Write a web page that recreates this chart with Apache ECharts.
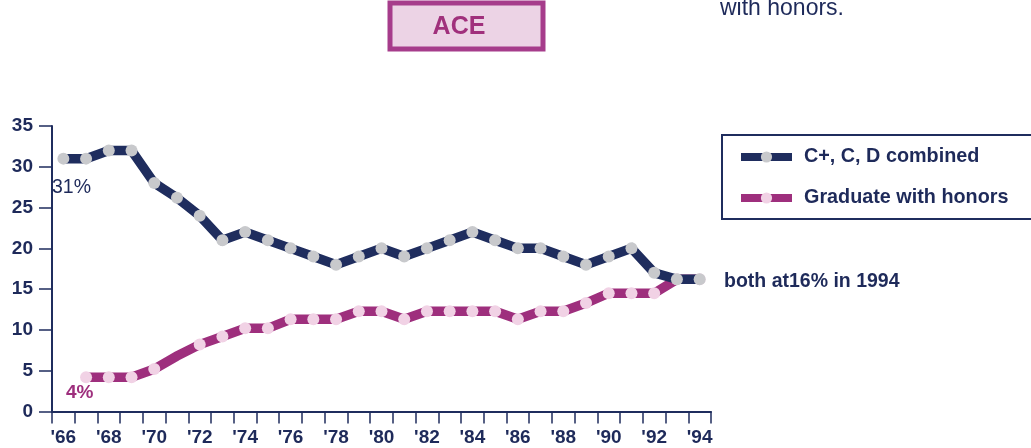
<!DOCTYPE html>
<html>
<head>
<meta charset="utf-8">
<script src="https://cdn.jsdelivr.net/npm/echarts@6/dist/echarts.min.js"></script>
<style>
html,body{margin:0;padding:0;background:#fff;}
#chart{width:1031px;height:448px;}
</style>
</head>
<body>
<div id="chart"></div>
<script>
const years = ["'66","'67","'68","'69","'70","'71","'72","'73","'74","'75","'76","'77","'78","'79","'80","'81","'82","'83","'84","'85","'86","'87","'88","'89","'90","'91","'92","'93","'94"];
const combinedCD = [31,31,32,32,28,26.2,24,21,22,21,20,19,18,19,20,19,20,21,22,21,20,20,19,18,19,20,17,16.2,16.2];
const honors = [null,4.2,4.2,4.2,5.2,6.8,8.2,9.2,10.2,10.2,11.3,11.3,11.3,12.3,12.3,11.3,12.3,12.3,12.3,12.3,11.3,12.3,12.3,13.3,14.5,14.5,14.5,16.2,16.2];
const honorsHiddenMarkers = ["'71"];
const yTicks = [0,5,10,15,20,25,30,35];
const seriesNames = ['C+, C, D combined','Graduate with honors'];
const titleText = 'ACE';
const noteText = 'with honors.';
const bothText = 'both at16% in 1994';

const NAVY = '#1f2d5e';
const MAG = '#9e2f7d';
const TXT = '#1e2a5a';

const chart = echarts.init(document.getElementById('chart'), null, {renderer:'canvas'});
const honorsData = honors.map((v,i)=> honorsHiddenMarkers.includes(years[i]) ? {value:v, symbol:'none'} : v);

chart.setOption({
  backgroundColor:'#ffffff',
  animation:false,
  textStyle:{fontFamily:'Liberation Sans, Arial, sans-serif'},
  grid:{left:52, right:320, top:126, bottom:36.5, containLabel:false},
  xAxis:{
    type:'category', data:years, boundaryGap:true,
    axisLine:{lineStyle:{color:NAVY,width:2}},
    axisTick:{show:true, interval:0, length:12, lineStyle:{color:NAVY,width:1.5}},
    axisLabel:{interval:1, color:TXT, fontSize:19, fontWeight:'bold', margin:17},
    splitLine:{show:false}
  },
  yAxis:{
    type:'value', min:yTicks[0], max:yTicks[yTicks.length-1], interval:5,
    axisLine:{show:true, lineStyle:{color:NAVY,width:2}},
    axisTick:{show:true, length:13, lineStyle:{color:NAVY,width:1.5}},
    axisLabel:{color:TXT, fontSize:19, fontWeight:'bold', margin:19},
    splitLine:{show:false}
  },
  legend:{
    orient:'vertical', left:737, top:147, padding:0, itemGap:21,
    itemWidth:51, itemHeight:14,
    data:seriesNames,
    lineStyle:{width:8},
    textStyle:{color:TXT, fontSize:19.8, fontWeight:'bold', padding:[0,0,0,7]}
  },
  series:[
    {
      name:seriesNames[1], type:'line', data:honorsData, z:2,
      symbol:'circle', symbolSize:12, showSymbol:true,
      lineStyle:{color:MAG, width:9.5, join:'miter'},
      itemStyle:{color:'#f1d2e5'},
      emphasis:{disabled:true}
    },
    {
      name:seriesNames[0], type:'line', data:combinedCD, z:3,
      symbol:'circle', symbolSize:12, showSymbol:true,
      lineStyle:{color:NAVY, width:9.5, join:'miter'},
      itemStyle:{color:'#c8c9cc'},
      emphasis:{disabled:true}
    }
  ],
  graphic:[
    {type:'rect', shape:{x:390,y:3,width:153,height:46}, style:{fill:'#ecd3e5', stroke:'#a63c8b', lineWidth:5}},
    {type:'text', x:459, y:27, style:{text:titleText, fill:'#a0307c', font:'bold 25px Liberation Sans, Arial, sans-serif', align:'center', verticalAlign:'middle'}},
    {type:'text', x:720, y:9, style:{text:noteText, fill:TXT, font:'23px Liberation Sans, Arial, sans-serif', align:'left', verticalAlign:'middle'}},
    {type:'rect', shape:{x:722,y:135,width:340,height:84}, style:{fill:'none', stroke:NAVY, lineWidth:2}},
    {type:'text', x:724, y:282, style:{text:bothText, fill:TXT, font:'bold 19.5px Liberation Sans, Arial, sans-serif', align:'left', verticalAlign:'middle'}},
    {type:'text', x:52, y:188, style:{text:'31%', fill:TXT, font:'19.5px Liberation Sans, Arial, sans-serif', align:'left', verticalAlign:'middle'}},
    {type:'text', x:66, y:393, style:{text:'4%', fill:MAG, font:'bold 19px Liberation Sans, Arial, sans-serif', align:'left', verticalAlign:'middle'}}
  ]
});
</script>
</body>
</html>
